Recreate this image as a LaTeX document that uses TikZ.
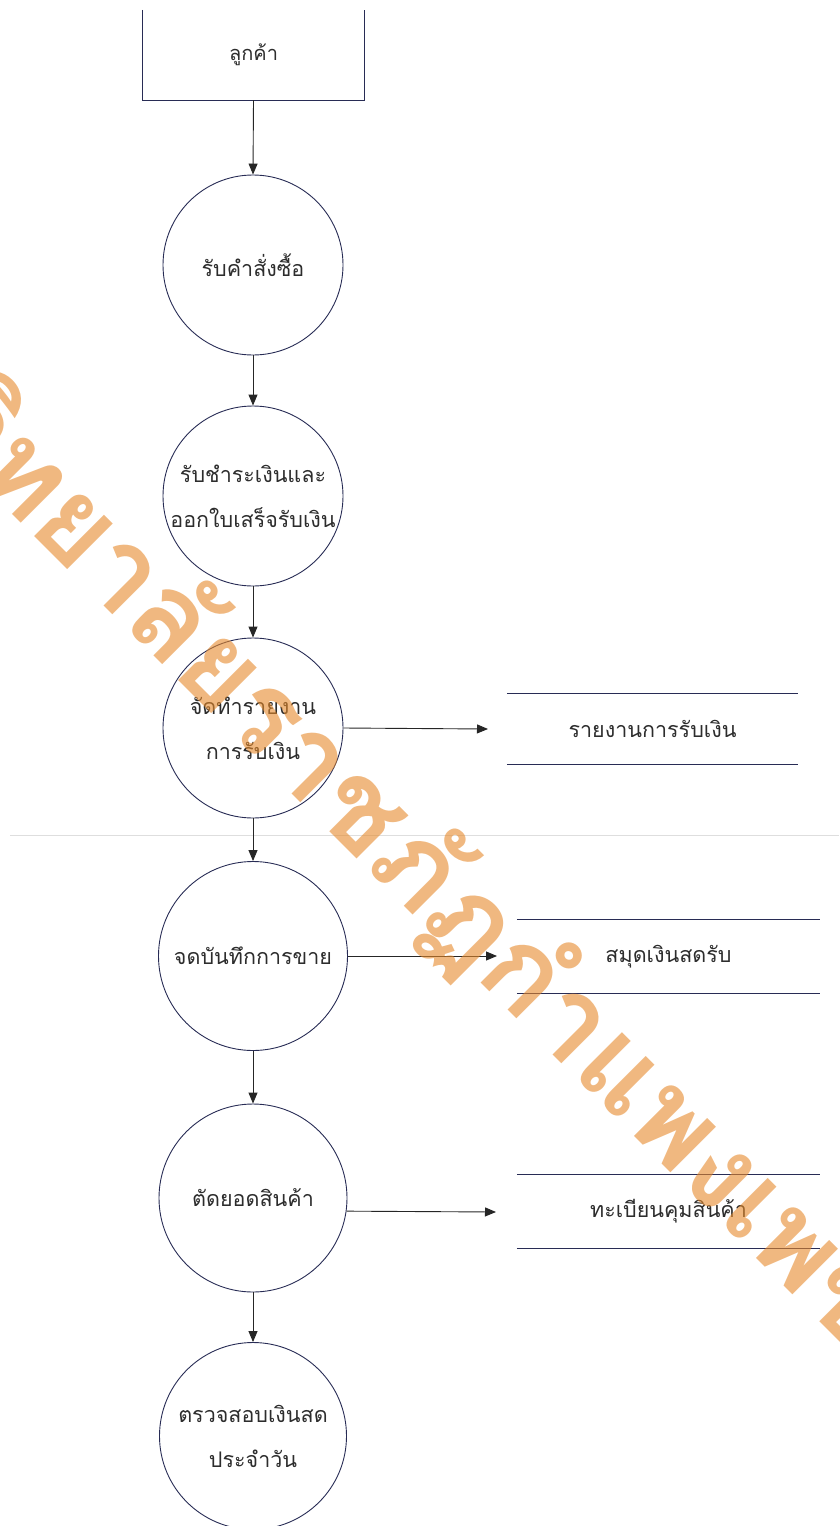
\documentclass[tikz,border=0pt]{standalone}
\usepackage{fontspec}
\newfontfamily\thai[Script=Thai]{Loma}
\usetikzlibrary{arrows.meta,calc}
\definecolor{navy}{RGB}{40,44,85}
\definecolor{txt}{RGB}{45,45,45}
\definecolor{wm}{RGB}{230,137,43}
\definecolor{sep}{RGB}{222,222,222}
\tikzset{
  proc/.style={circle,draw=navy,line width=0.9pt,inner sep=0pt,align=center,text=txt,
    font=\thai\fontsize{21.5}{45}\selectfont},
  store/.style={rectangle,inner sep=0pt,minimum height=70pt,text=txt,font=\thai\fontsize{21.5}{24}\selectfont},
  sline/.style={draw=navy,line width=1.1pt},
  flow/.style={draw=black!85,line width=0.9pt,-{Triangle[length=11pt,width=9pt]}},
}
\begin{document}
\begin{tikzpicture}[x=1pt,y=-1pt]
\useasboundingbox (0,0) rectangle (839,1526);
% external entity
\node[rectangle,inner sep=0pt,minimum width=221pt,minimum height=90pt,text=txt,
  font=\thai\fontsize{20}{24}\selectfont] (cust) at (253.5,55) {\raisebox{-3pt}{ลูกค้า}};
\draw[navy,line width=1pt] (cust.north west) -- (cust.south west) -- (cust.south east) -- (cust.north east);
% processes
\node[proc,minimum size=180pt] (c1) at (253,265) {รับคำสั่งซื้อ};
\node[proc,minimum size=180pt] (c2) at (253,496) {รับชำระเงินและ\\ออกใบเสร็จรับเงิน};
\node[proc,minimum size=180pt] (c3) at (253,728) {จัดทำรายงาน\\การรับเงิน};
\node[proc,minimum size=189pt] (c4) at (253,956) {จดบันทึกการขาย};
\node[proc,minimum size=188pt] (c5) at (253,1198) {ตัดยอดสินค้า};
\node[proc,minimum size=187pt] (c6) at (253,1436) {ตรวจสอบเงินสด\\ประจำวัน};
% data stores
\node[store,minimum width=291pt] (s1) at (652.5,729) {รายงานการรับเงิน};
\node[store,minimum width=303pt,minimum height=73pt] (s2) at (668.5,956.5) {สมุดเงินสดรับ};
\node[store,minimum width=303pt,minimum height=73pt] (s3) at (668.5,1211.5) {ทะเบียนคุมสินค้า};
\foreach \s in {s1,s2,s3}{
  \draw[sline] (\s.north west) -- (\s.north east);
  \draw[sline] (\s.south west) -- (\s.south east);
}
% page separator
\coordinate (sepL) at (10,835);
\coordinate (sepR) at (839,835);
\draw[sep,line width=1pt] (sepL) -- (sepR);
% flows
\draw[flow] (cust.south) -- (c1.north);
\draw[flow] (c1.south) -- (c2.north);
\draw[flow] (c2.south) -- (c3.north);
\draw[flow] (c3.south) -- (c4.north);
\draw[flow] (c4.south) -- (c5.north);
\draw[flow] (c5.south) -- (c6.north);
\coordinate (a1) at (488,729);
\coordinate (a2) at (497,956);
\coordinate (a3) at (496,1212);
\draw[flow] (c3.east) -- (a1);
\draw[flow] (c4.east) -- (a2);
\draw[flow] (c5.-8.6) -- (a3);
% watermark
\node[rotate=-45,anchor=center,text=wm,opacity=0.6,inner sep=0pt,
  font=\thai\bfseries\fontsize{116}{116}\selectfont] (wmk) at (360,812) {มหาวิทยาลัยราชภัฏกำแพงเพชร};
\end{tikzpicture}
\end{document}
